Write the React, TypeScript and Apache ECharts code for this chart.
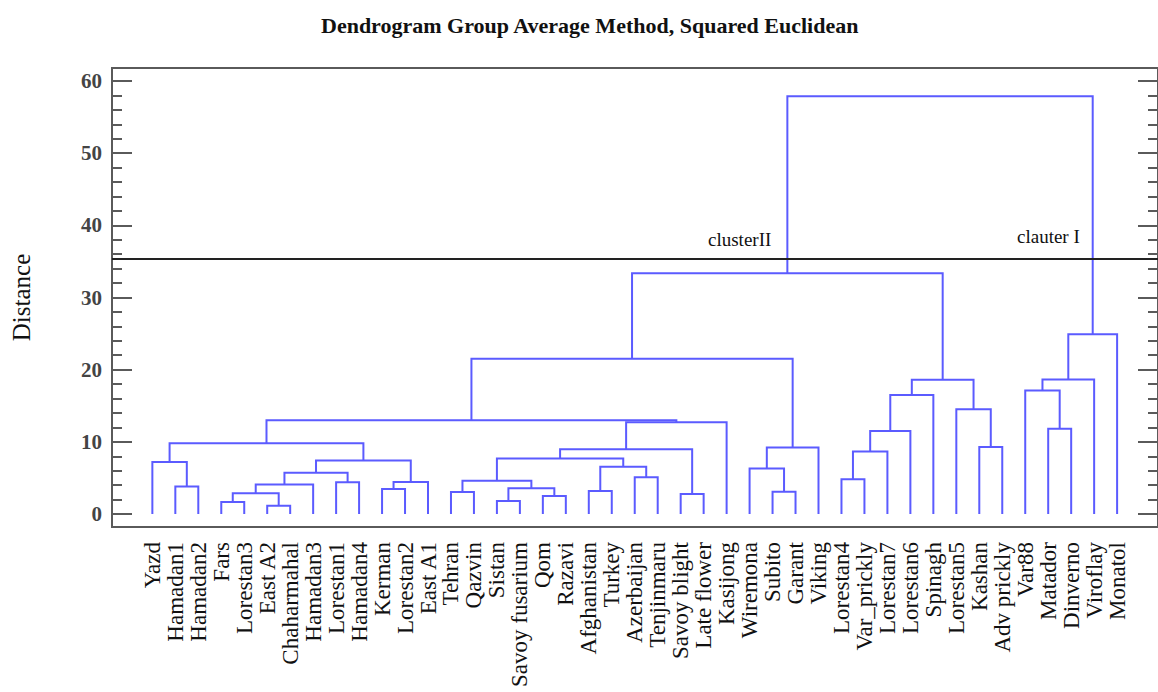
import React, { useEffect, useRef } from "react";
import * as echarts from "echarts";

const leaves: string[] = [
  "Yazd", "Hamadan1", "Hamadan2", "Fars", "Lorestan3", "East A2", "Chaharmahal",
  "Hamadan3", "Lorestan1", "Hamadan4", "Kerman", "Lorestan2", "East A1", "Tehran",
  "Qazvin", "Sistan", "Savoy fusarium", "Qom", "Razavi", "Afghanistan", "Turkey",
  "Azerbaijan", "Tenjinmaru", "Savoy blight", "Late flower", "Kasijong", "Wiremona",
  "Subito", "Garant", "Viking", "Lorestan4", "Var_prickly", "Lorestan7", "Lorestan6",
  "Spinagh", "Lorestan5", "Kashan", "Adv prickly", "Var88", "Matador", "Dinverno",
  "Viroflay", "Monatol",
];

// merges: [left id, right id, height]; ids < 43 are leaves, cluster k has id 43 + k
const mergeLeft: number[] = [
  1, 0, 3, 5, 45, 47, 8, 48, 10, 51, 50, 44, 13, 15, 17, 56, 55, 19, 21, 60, 59,
  23, 63, 65, 54, 27, 26, 69, 67, 30, 72, 73, 74, 36, 35, 75, 71, 39, 38, 81, 82, 79,
];
const mergeRight: number[] = [
  2, 43, 4, 6, 46, 7, 9, 49, 11, 12, 52, 53, 14, 16, 18, 57, 58, 20, 22, 61, 62,
  24, 64, 25, 66, 28, 68, 29, 70, 31, 32, 33, 34, 37, 76, 77, 78, 40, 80, 41, 42, 83,
];
const mergeHeight: number[] = [
  3.8, 7.2, 1.66, 1.15, 2.87, 4.1, 4.4, 5.7, 3.46, 4.43, 7.4, 9.8, 3.05, 1.8, 2.5,
  3.56, 4.6, 3.2, 5.1, 6.55, 7.7, 2.77, 8.96, 12.7, 13.0, 3.1, 6.3, 9.2, 21.5, 4.8,
  8.65, 11.5, 16.5, 9.3, 14.5, 18.6, 33.35, 11.8, 17.1, 18.65, 24.9, 57.9,
];

const cutHeight = 35.4;
const majorTicks: number[] = [0, 10, 20, 30, 40, 50, 60];
const minorTicks: number[] = [
  2, 4, 6, 8, 12, 14, 16, 18, 22, 24, 26, 28, 32, 34, 36, 38, 42, 44, 46, 48, 52, 54, 56, 58,
];

const FONT = "'Liberation Serif', 'Times New Roman', serif";
const BLUE = "#5b5bff";
const FRAME = "#5a5a5a";

function buildSegments(): number[][] {
  const n = leaves.length;
  const posX: number[] = leaves.map((_, i) => i);
  const posH: number[] = leaves.map(() => 0);
  const out: number[][] = [];
  for (let k = 0; k < mergeLeft.length; k++) {
    const a = mergeLeft[k];
    const b = mergeRight[k];
    const h = mergeHeight[k];
    out.push([posX[a], posH[a], posX[b], posH[b], h]);
    posX[n + k] = (posX[a] + posX[b]) / 2;
    posH[n + k] = h;
  }
  return out;
}

export default function App() {
  const ref = useRef<HTMLDivElement>(null);

  useEffect(() => {
    document.body.style.margin = "0";
    const chart = echarts.init(ref.current!, null, { renderer: "svg" });
    const segs = buildSegments();
    const yRange = { min: -1.8, max: 61.8 };

    const baseY = (position: string, ticks: number[], len: number, labels: boolean, name?: string) => ({
      type: "value",
      position,
      ...yRange,
      name: name || "",
      nameLocation: "middle",
      nameRotate: 90,
      nameGap: 78,
      nameTextStyle: { fontFamily: FONT, fontSize: 25, color: "#111" },
      axisLine: { show: false, onZero: false },
      splitLine: { show: false },
      axisTick: {
        show: true,
        inside: true,
        length: len,
        customValues: ticks,
        lineStyle: { color: FRAME, width: 2 },
      },
      axisLabel: {
        show: labels,
        customValues: ticks,
        margin: 10,
        fontFamily: FONT,
        fontSize: 21,
        fontWeight: "bold",
        color: "#444",
      },
    });

    chart.setOption({
      animation: false,
      backgroundColor: "#fff",
      title: {
        text: "Dendrogram Group Average Method, Squared Euclidean",
        left: 316,
        top: 9,
        textStyle: { fontFamily: FONT, fontSize: 22, fontWeight: "bold", color: "#111" },
      },
      grid: {
        left: 112,
        top: 68,
        right: -9,
        bottom: 165,
        show: true,
        borderColor: FRAME,
        borderWidth: 2,
        backgroundColor: "transparent",
      },
      xAxis: {
        type: "value",
        min: -1.757,
        max: 43.78,
        axisLine: { show: false, onZero: false },
        axisTick: { show: false },
        splitLine: { show: false },
        axisLabel: {
          customValues: leaves.map((_, i) => i),
          formatter: (v: number) => leaves[Math.round(v)] ?? "",
          rotate: 90,
          margin: 15,
          fontFamily: FONT,
          fontSize: 23,
          color: "#111",
        },
      },
      yAxis: [
        baseY("left", majorTicks, 20, true, "Distance"),
        baseY("left", minorTicks, 10, false),
        baseY("right", majorTicks, 20, false),
        baseY("right", minorTicks, 10, false),
      ],
      graphic: [
        {
          type: "text",
          left: 708,
          top: 230,
          style: { text: "clusterII", font: `19px ${FONT}`, fill: "#111" },
        },
        {
          type: "text",
          left: 1017,
          top: 227,
          style: { text: "clauter I", font: `19px ${FONT}`, fill: "#111" },
        },
      ],
      series: [
        {
          type: "custom",
          data: segs,
          encode: { x: [0, 2], y: [1, 3, 4] },
          renderItem: (params: any, api: any) => {
            const xl = api.value(0);
            const hl = api.value(1);
            const xr = api.value(2);
            const hr = api.value(3);
            const h = api.value(4);
            const pts = [
              api.coord([xl, hl]),
              api.coord([xl, h]),
              api.coord([xr, h]),
              api.coord([xr, hr]),
            ];
            return {
              type: "polyline",
              shape: { points: pts },
              style: { stroke: BLUE, lineWidth: 2, fill: "none" },
            };
          },
        },
        {
          type: "line",
          data: [],
          markLine: {
            silent: true,
            symbol: "none",
            label: { show: false },
            lineStyle: { color: "#222", width: 2, type: "solid" },
            data: [{ yAxis: cutHeight }],
          },
        },
      ],
    });
    return () => chart.dispose();
  }, []);

  return <div ref={ref} style={{ width: 1158, height: 692 }} />;
}
